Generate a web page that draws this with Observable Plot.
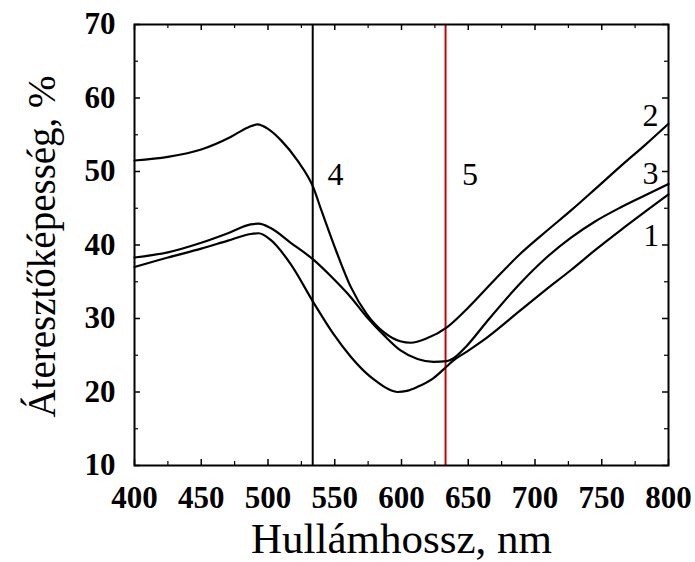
<!DOCTYPE html>
<html>
<head>
<meta charset="utf-8">
<script src="https://cdn.jsdelivr.net/npm/d3@7"></script>
<script src="https://cdn.jsdelivr.net/npm/@observablehq/plot@0.6"></script>
<style>
  html, body { margin: 0; padding: 0; background: #fff; }
  #chart svg { display: block; }
</style>
</head>
<body>
<div id="chart"></div>
<script>
// ---- data ----
const curve1Wavelength = [400, 425, 450, 470, 487, 493, 502, 517, 534, 549, 562, 574, 580, 590, 597, 604, 612, 624, 634, 639, 649, 664, 689, 708, 727, 745, 764, 783, 800];
const curve1Value      = [37.0, 38.3, 39.5, 40.6, 41.5, 41.6, 40.7, 37.4, 32.2, 27.9, 24.8, 22.5, 21.6, 20.4, 20.0, 20.15, 20.7, 21.9, 23.5, 24.3, 25.5, 27.4, 31.1, 33.9, 36.6, 39.3, 42.0, 44.6, 46.9];

const curve2Wavelength = [400, 425, 450, 472, 485, 492, 500, 510, 522, 534, 540, 549, 562, 574, 587, 599, 607, 619, 634, 649, 670, 689, 708, 727, 745, 764, 783, 800];
const curve2Value      = [51.5, 52.0, 53.0, 54.7, 56.0, 56.4, 55.8, 54.2, 51.5, 47.8, 44.7, 40.2, 34.3, 30.6, 28.1, 26.9, 26.7, 27.3, 28.8, 31.3, 35.3, 38.8, 41.8, 44.7, 47.6, 50.7, 53.7, 56.5];

const curve3Wavelength = [400, 425, 450, 470, 487, 493, 502, 517, 534, 549, 562, 574, 587, 599, 612, 624, 634, 639, 649, 664, 689, 708, 727, 745, 764, 783, 800];
const curve3Value      = [38.3, 39.0, 40.3, 41.6, 42.8, 42.9, 42.3, 40.3, 38.0, 35.4, 32.9, 30.2, 27.7, 25.7, 24.5, 24.1, 24.2, 24.6, 26.3, 29.6, 34.8, 38.2, 41.0, 43.2, 45.1, 46.8, 48.3];

const curveNames = ["1", "2", "3"];

const laserLines  = [533.5, 633];
const laserColors = ["#000000", "#cc0000"];

const labelText = ["1", "2", "3", "4", "5"];
const labelX    = [787, 786.5, 786.5, 550.6, 651.3];
const labelY    = [41.3, 57.6, 49.7, 49.6, 49.6];

const xMajor = [400, 450, 500, 550, 600, 650, 700, 750, 800];
const xMinor = [425, 475, 525, 575, 625, 675, 725, 775];
const yMajor = [10, 20, 30, 40, 50, 60, 70];
const yMinor = [15, 25, 35, 45, 55, 65];

const xTitle = "Hullámhossz, nm";
const yTitle = "Áteresztőképesség, %";

// ---- build table ----
const curves = [
  [curve1Wavelength, curve1Value],
  [curve2Wavelength, curve2Value],
  [curve3Wavelength, curve3Value]
];
const rows = curves.flatMap(([ws, vs], i) => ws.map((w, j) => ({curve: curveNames[i], wavelength: w, value: vs[j]})));
const lasers = laserLines.map((x, i) => ({x, color: laserColors[i]}));
const labels = labelText.map((t, i) => ({text: t, x: labelX[i], y: labelY[i]}));

const W = 695, H = 562;
const mL = 134, mR = 27, mT = 24, mB = 97;
const innerW = W - mL - mR, innerH = H - mT - mB;

const serif = "'Liberation Serif', 'Times New Roman', serif";

const chart = Plot.plot({
  width: W,
  height: H,
  marginLeft: mL,
  marginRight: mR,
  marginTop: mT,
  marginBottom: mB,
  style: {fontFamily: serif, background: "#fff", color: "#000"},
  x: {domain: [400, 800], axis: null},
  y: {domain: [10, 70], axis: null},
  marks: [
    // laser lines
    Plot.ruleX(lasers, {x: "x", stroke: "color", strokeWidth: 2}),
    // curves
    Plot.line(rows, {x: "wavelength", y: "value", z: "curve", stroke: "#000", strokeWidth: 2.2, curve: "monotone-x"}),
    // inward ticks: bottom / top
    Plot.tickX(xMajor, {x: d => d, insetTop: innerH - 6, stroke: "#000", strokeWidth: 1.5}),
    Plot.tickX(xMajor, {x: d => d, insetBottom: innerH - 6, stroke: "#000", strokeWidth: 1.5}),
    Plot.tickX(xMinor, {x: d => d, insetTop: innerH - 4, stroke: "#000", strokeWidth: 1.2}),
    Plot.tickX(xMinor, {x: d => d, insetBottom: innerH - 4, stroke: "#000", strokeWidth: 1.2}),
    // inward ticks: left / right
    Plot.tickY(yMajor, {y: d => d, insetRight: innerW - 6, stroke: "#000", strokeWidth: 1.5}),
    Plot.tickY(yMajor, {y: d => d, insetLeft: innerW - 6, stroke: "#000", strokeWidth: 1.5}),
    Plot.tickY(yMinor, {y: d => d, insetRight: innerW - 4, stroke: "#000", strokeWidth: 1.2}),
    Plot.tickY(yMinor, {y: d => d, insetLeft: innerW - 4, stroke: "#000", strokeWidth: 1.2}),
    // frame
    Plot.frame({stroke: "#000", strokeWidth: 2}),
    // tick labels
    Plot.text(xMajor, {x: d => d, text: d => String(d), frameAnchor: "bottom", dy: 33, lineAnchor: "middle",
      fontSize: 31, fontWeight: "bold", fill: "#000"}),
    Plot.text(yMajor, {y: d => d, text: d => String(d), frameAnchor: "left", dx: -19, textAnchor: "end", lineAnchor: "middle",
      fontSize: 31, fontWeight: "bold", fill: "#000"}),
    // curve labels
    Plot.text(labels, {x: "x", y: "y", text: "text", fontSize: 32, lineAnchor: "middle", fill: "#000"}),
    // axis titles
    Plot.text([xTitle], {text: d => d, frameAnchor: "bottom", dy: 74, textAnchor: "middle", lineAnchor: "middle", fontSize: 43, fill: "#000"}),
    Plot.text([yTitle], {text: d => d, frameAnchor: "left", dx: -91.5, dy: 1.5, rotate: -90, textAnchor: "middle", lineAnchor: "middle", fontSize: 39, fill: "#000"})
  ]
});

document.getElementById("chart").appendChild(chart);
</script>
</body>
</html>
